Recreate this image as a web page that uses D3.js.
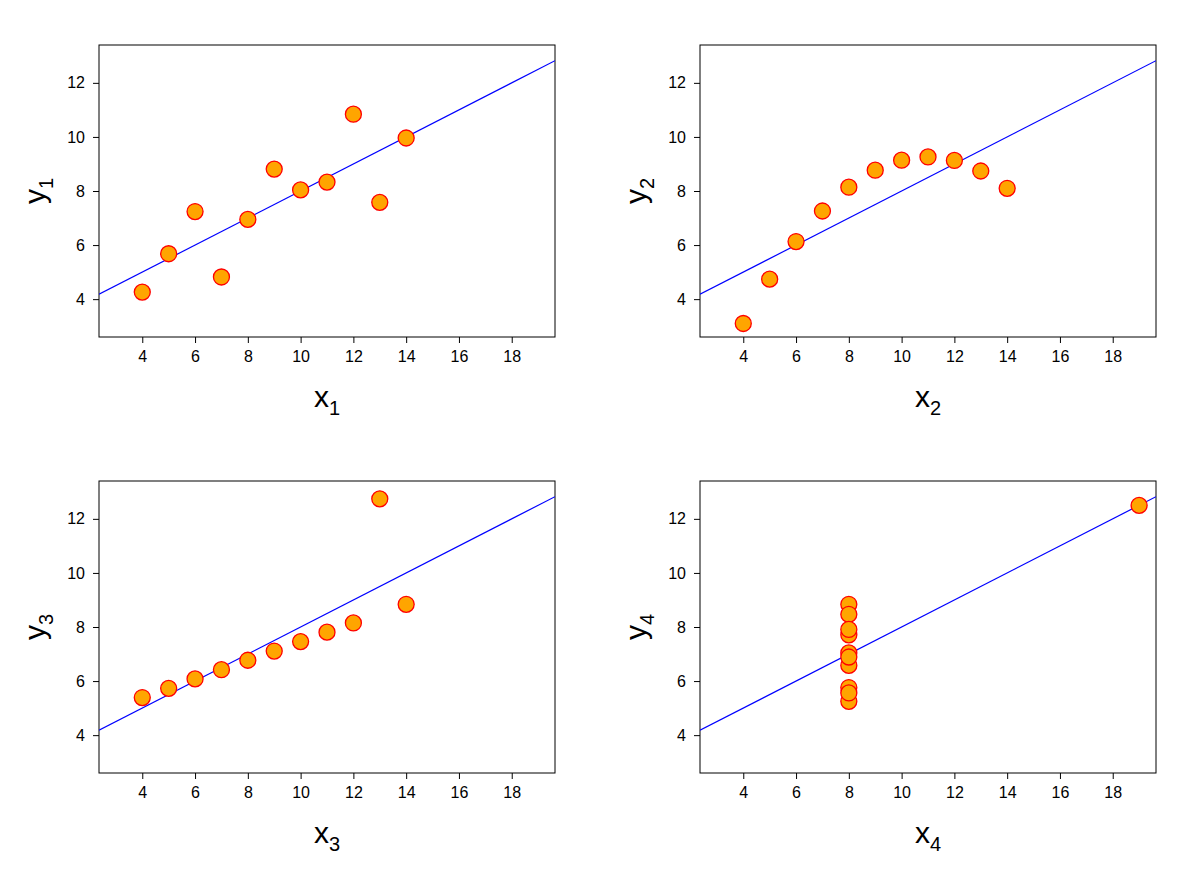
<!DOCTYPE html>
<html><head><meta charset="utf-8">
<script src="https://cdn.jsdelivr.net/npm/d3@7"></script>
<style>body{margin:0;background:#fff}</style>
</head><body>
<svg id="c" width="1200" height="873"></svg>
<script>
const x123 = [10,8,13,9,11,14,6,4,12,7,5];
const x4 = [8,8,8,8,8,8,8,19,8,8,8];
const y1 = [8.04,6.95,7.58,8.81,8.33,9.96,7.24,4.26,10.84,4.82,5.68];
const y2 = [9.14,8.14,8.74,8.77,9.26,8.10,6.13,3.10,9.13,7.26,4.74];
const y3 = [7.46,6.77,12.74,7.11,7.81,8.84,6.08,5.39,8.15,6.42,5.73];
const y4 = [6.58,5.76,7.71,8.84,8.47,7.04,5.25,12.50,5.56,7.91,6.89];
const xTicks = [4,6,8,10,12,14,16,18];
const yTicks = [4,6,8,10,12];
const fit = {a:3, b:0.5};
const panels = [
  {xs:x123, ys:y1, n:"1", l:99, t:45},
  {xs:x123, ys:y2, n:"2", l:700, t:45},
  {xs:x123, ys:y3, n:"3", l:99, t:481},
  {xs:x4, ys:y4, n:"4", l:700, t:481}
];
const W=456, H=292;
const svg = d3.select("#c");
svg.append("defs").selectAll("clipPath").data(panels).join("clipPath")
  .attr("id",(d,i)=>"cp"+i).append("rect").attr("width",W).attr("height",H);
panels.forEach((p,i)=>{
  const g = svg.append("g").attr("transform",`translate(${p.l},${p.t})`);
  const x = d3.scaleLinear().domain([2.36,19.64]).range([0,W]);
  const y = d3.scaleLinear().domain([2.6,13.4]).range([H,0]);
  const xa = g.append("g").attr("transform",`translate(0,${H})`)
    .call(d3.axisBottom(x).tickValues(xTicks).tickSize(6).tickPadding(8));
  const ya = g.append("g").call(d3.axisLeft(y).tickValues(yTicks).tickSize(6).tickPadding(8));
  [xa,ya].forEach(a=>{a.select(".domain").remove();
    a.selectAll("text").attr("font-family","Liberation Sans, Arial").attr("font-size",16).attr("fill","#000");
    a.selectAll("line").attr("stroke","#000");});
  g.append("rect").attr("width",W).attr("height",H).attr("fill","none").attr("stroke","#000");
  g.append("g").attr("clip-path",`url(#cp${i})`).append("line")
    .attr("x1",x(2.36)).attr("y1",y(fit.a+fit.b*2.36))
    .attr("x2",x(19.64)).attr("y2",y(fit.a+fit.b*19.64))
    .attr("stroke","#0000ff").attr("stroke-width",1.2);
  g.selectAll("circle").data(p.xs.map((v,k)=>[v,p.ys[k]])).join("circle")
    .attr("cx",d=>x(d[0])).attr("cy",d=>y(d[1])).attr("r",8)
    .attr("fill","#ffa500").attr("stroke","#ff0000").attr("stroke-width",1.3);
  const xl = g.append("text").attr("x",W/2).attr("y",H+70).attr("text-anchor","middle")
    .attr("font-family","Liberation Sans, Arial").attr("font-size",30);
  xl.append("tspan").text("x");
  xl.append("tspan").text(p.n).attr("font-size",20).attr("dy",8);
  const yl = g.append("text").attr("transform",`translate(-54,${H/2}) rotate(-90)`).attr("text-anchor","middle")
    .attr("font-family","Liberation Sans, Arial").attr("font-size",30);
  yl.append("tspan").text("y");
  yl.append("tspan").text(p.n).attr("font-size",20).attr("dy",8);
});
</script>
</body></html>
